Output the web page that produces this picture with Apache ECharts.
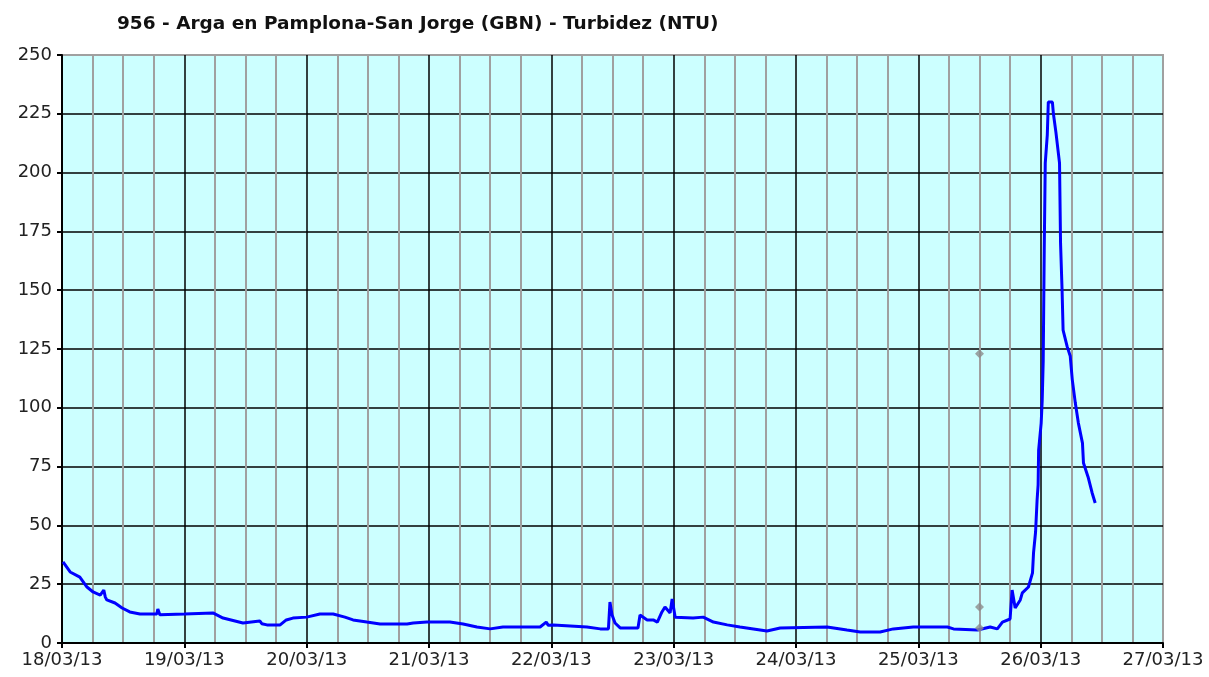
<!DOCTYPE html>
<html>
<head>
<meta charset="utf-8">
<title>Turbidez</title>
<script src="https://cdn.jsdelivr.net/npm/echarts@6/dist/echarts.min.js"></script>
<style>
  html, body { margin: 0; padding: 0; background: #fff; }
  #chart { width: 1209px; height: 677px; }
</style>
</head>
<body>
<div id="chart"></div>
<script>
// hours since 18/03/13 00:00
var hours = [
  0.2, 1.6, 3.5, 4.9, 6.1, 7.5, 8.2, 8.5, 8.8, 10.4, 11.8, 13.3, 15.3, 18.6, 18.8, 19.2,
  24, 29.6, 31.6, 35.5, 38.8, 39.2, 40.2, 42.8, 44, 45.3, 48, 50.6, 53.2, 53.4, 55.5,
  57.1, 59.8, 62.4, 67.7, 68.9, 71.6, 76.1, 78.7, 81.4, 84, 86.5, 93.8, 95.0, 95.4,
  96.4, 103, 105.6, 107.2, 107.5, 107.9, 108.5, 109.5, 113, 113.4, 114.8, 116, 116.8,
  117.7, 118.3, 119.3, 119.7, 120.3, 123.8, 125.8, 127.8, 130.5, 133, 138.3, 140.9,
  150.1, 154, 156.6, 160.5, 163.1, 167, 173.7, 174.9, 179.6, 182.1, 183.5, 184.5,
  186, 186.4, 187, 188, 188.4, 189.6, 190.4, 190.6, 191, 191.3, 191.5, 191.6, 192.1,
  192.3, 192.5, 192.7, 192.9, 193.3, 193.5, 194.3, 194.5, 195, 195.7, 195.9, 196.2,
  196.4, 197.2, 197.8, 198.2, 198.8, 199.4, 200.2, 200.4, 201.3, 202.1, 202.7
];
var turbidez = [
  34.5, 30.2, 28, 23.8, 21.7, 20.4, 22.5, 19.5, 18.3, 17, 14.9, 13.2, 12.3, 12.3, 14.4, 12,
  12.3, 12.8, 10.6, 8.5, 9.4, 8.2, 7.7, 7.7, 9.8, 10.6, 11, 12.3, 12.3, 13, 11,
  9.8, 8.9, 8.1, 8.1, 8.5, 8.9, 8.9, 8.1, 6.8, 6, 6.8, 6.8, 8.9, 7.5,
  7.7, 6.8, 6, 6, 17.4, 12, 8.5, 6.4, 6.4, 11.9, 9.8, 9.8, 8.9,
  13.2, 15.3, 12.8, 18.7, 11, 10.6, 11, 8.9, 7.7, 6.8, 5.1, 6.4,
  6.8, 5.5, 4.7, 4.7, 6, 6.8, 6.8, 6, 5.5, 6.8, 6, 8.9,
  10.2, 22.5, 14.9, 18.3, 21.3, 23.8, 29.8, 38.3, 47.2, 60.8, 67.2, 82, 93.5,
  103, 120, 167, 204, 216, 230, 230, 225, 217, 204, 170, 150,
  133, 126, 122, 112, 102, 93.5, 85, 76.5, 70.6, 63.8, 59.5
];
// grey marks at 25/03 12:00
var markHours = [180, 180, 180];
var markValues = [123, 15.3, 6.4];

var yTicks = [0, 25, 50, 75, 100, 125, 150, 175, 200, 225, 250];

var lineData = hours.map(function (h, i) { return [h, turbidez[i]]; });
var markData = markHours.map(function (h, i) { return [h, markValues[i]]; });

function dayLabel(h) {
  var d = 18 + Math.round(h / 24);
  return (d < 10 ? '0' + d : d) + '/03/13';
}

var chart = echarts.init(document.getElementById('chart'));
chart.setOption({
  animation: false,
  title: {
    text: '956 - Arga en Pamplona-San Jorge (GBN) - Turbidez (NTU)',
    left: 112,
    top: 10,
    textStyle: { fontFamily: 'DejaVu Sans', fontWeight: 'bold', fontSize: 18.5, color: '#111' }
  },
  grid: {
    left: 62, right: 46, top: 55, bottom: 34,
    show: true,
    backgroundColor: '#ccffff',
    borderColor: '#a0a0a0',
    borderWidth: 2
  },
  xAxis: {
    type: 'value',
    min: 0,
    max: 216,
    interval: 24,
    axisLine: { lineStyle: { color: '#000', width: 2 } },
    axisTick: { show: true, length: 5, lineStyle: { color: '#000', width: 2 } },
    axisLabel: {
      formatter: dayLabel,
      fontFamily: 'DejaVu Sans', fontSize: 18, color: '#222', margin: 8
    },
    splitLine: { show: true, showMaxLine: false, lineStyle: { color: '#000', width: 1.5 } },
    minorTick: { show: false, splitNumber: 4 },
    minorSplitLine: { show: true, lineStyle: { color: '#a0a0a0', width: 2 } }
  },
  yAxis: {
    type: 'value',
    min: yTicks[0],
    max: yTicks[yTicks.length - 1],
    interval: 25,
    axisLine: { show: true, lineStyle: { color: '#000', width: 2 } },
    axisTick: { show: true, length: 5, lineStyle: { color: '#000', width: 2 } },
    axisLabel: { fontFamily: 'DejaVu Sans', fontSize: 18, color: '#222', margin: 10 },
    splitLine: { show: true, showMaxLine: false, lineStyle: { color: '#000', width: 1.5 } }
  },
  series: [
    {
      type: 'line',
      data: lineData,
      showSymbol: false,
      lineStyle: { color: '#0000ff', width: 3 },
      z: 3
    },
    {
      type: 'scatter',
      data: markData,
      symbol: 'diamond',
      symbolSize: 9,
      itemStyle: { color: '#8c8c8c' },
      z: 4
    }
  ]
});
</script>
</body>
</html>
